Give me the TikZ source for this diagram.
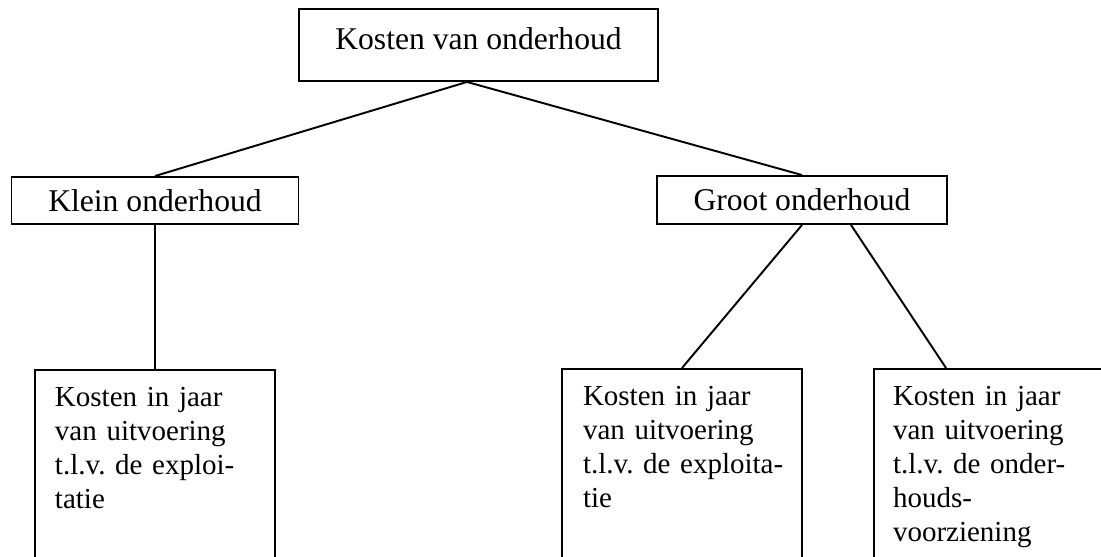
\documentclass[tikz,border=0pt]{standalone}
\usepackage{fontspec}
\setmainfont{Liberation Serif}
\usetikzlibrary{positioning}
\frenchspacing

\begin{document}
\begin{tikzpicture}[
    line width=1.1pt,
    kop/.style={draw, inner sep=0pt, font=\fontsize{18}{21}\selectfont},
    blok/.style={draw, anchor=north, inner sep=0pt, minimum width=4.8cm, minimum height=4.1cm},
    tekst/.style={inner sep=0pt, text width=4.3cm, align=left, font=\fontsize{16.5}{19.4}\selectfont}
  ]
    \useasboundingbox (0,0) rectangle (22.02,11.14);
    \clip (0,0) rectangle (22.02,11.14);

    % Bovenste blok
    \node[kop, minimum width=7.18cm, minimum height=1.44cm, text height=0.43cm, text depth=0.23cm] (kosten) at (9.57,10.24) {Kosten van onderhoud};

    % Klein en groot onderhoud
    \node[kop, minimum width=5.74cm, minimum height=0.94cm, text height=0.45cm, text depth=0cm] (klein) at (3.10,7.13) {Klein onderhoud};
    \node[kop, minimum width=5.80cm, minimum height=0.96cm, text height=0.44cm, text depth=0cm] (groot) at (16.04,7.14) {Groot onderhoud};

    % Onderste blokken
    \node[blok] (links) at (3.10,3.76) {};
    \node[blok] (midden) at (13.64,3.78) {};
    \node[blok] (rechts) at (19.88,3.78) {};

    \node[tekst, below right=0.34cm and 0.4cm of links.north west] (linkstekst) {Kosten in jaar\\van uitvoering\\t.l.v. de exploi-\\tatie};
    \node[tekst, below right=0.34cm and 0.42cm of midden.north west] (middentekst) {Kosten in jaar\\van uitvoering\\t.l.v. de exploita-\\tie};
    \node[tekst, below right=0.34cm and 0.38cm of rechts.north west] (rechtstekst) {Kosten in jaar\\van uitvoering\\t.l.v. de onder-\\houds-\\voorziening};

    % Verbindingen
    \draw ([xshift=-0.23cm]kosten.south) -- (klein.north);
    \draw ([xshift=-0.23cm]kosten.south) -- (groot.north);
    \draw (klein.south) -- (links.north);
    \draw (groot.south) -- (midden.north);
    \draw ([xshift=0.98cm]groot.south) -- ([xshift=1.46cm]rechts.north west);
\end{tikzpicture}
\end{document}
